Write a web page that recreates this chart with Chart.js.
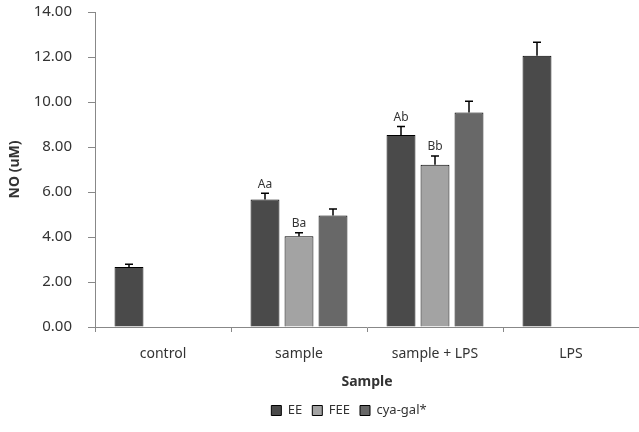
<!DOCTYPE html>
<html>
<head>
<meta charset="utf-8">
<script src="https://cdn.jsdelivr.net/npm/chart.js@4.4.0/dist/chart.umd.min.js"></script>
<style>
  html, body { margin: 0; padding: 0; background: #fff; }
  #wrap { width: 639px; height: 432px; }
</style>
</head>
<body>
<div id="wrap"><canvas id="barChart"></canvas></div>
<script>
// datos
var categorias = ['control', 'sample', 'sample + LPS', 'LPS'];
var valoresEE = [2.67, 5.67, 8.53, 12.06];
var valoresFEE = [null, 4.03, 7.21, null];
var valoresCya = [null, 4.96, 9.53, null];
var errorEE = [0.12, 0.28, 0.38, 0.6];
var errorFEE = [null, 0.16, 0.39, null];
var errorCya = [null, 0.28, 0.5, null];
var letrasEE = ['', 'Aa', 'Ab', ''];
var letrasFEE = ['', 'Ba', 'Bb', ''];
var letrasCya = ['', '', '', ''];
var ticksY = [0, 2, 4, 6, 8, 10, 12, 14];

var fuente = "'Noto Sans', 'DejaVu Sans', sans-serif";

// barras de error y letras encima
var errorBars = {
  id: 'errorBars',
  afterDatasetsDraw: function (chart) {
    var ctx = chart.ctx;
    var yScale = chart.scales.y;
    chart.data.datasets.forEach(function (ds, di) {
      var meta = chart.getDatasetMeta(di);
      ds.data.forEach(function (v, i) {
        if (v === null) return;
        var bar = meta.data[i];
        var err = ds.errores[i] || 0;
        var yTop = yScale.getPixelForValue(v + err);
        ctx.save();
        ctx.strokeStyle = '#000';
        ctx.lineWidth = 1.5;
        ctx.beginPath();
        ctx.moveTo(bar.x, bar.y);
        ctx.lineTo(bar.x, yTop);
        ctx.moveTo(bar.x - 4, yTop);
        ctx.lineTo(bar.x + 4, yTop);
        ctx.stroke();
        if (ds.letras[i]) {
          ctx.fillStyle = '#333';
          ctx.font = '12px ' + fuente;
          ctx.textAlign = 'center';
          ctx.textBaseline = 'bottom';
          ctx.fillText(ds.letras[i], bar.x, yTop - 3);
        }
        ctx.restore();
      });
    });
  }
};

// mover la leyenda un poco a la derecha
var moverLeyenda = {
  id: 'moverLeyenda',
  afterLayout: function (chart) {
    if (chart.legend) chart.legend.left += 56;
  }
};

var barChartData = {
  labels: categorias,
  datasets: [
    {
      label: 'EE',
      backgroundColor: '#4a4a4a',
      borderColor: '#000',
      borderWidth: 1,
      data: valoresEE,
      errores: errorEE,
      letras: letrasEE
    },
    {
      label: 'FEE',
      backgroundColor: '#a3a3a3',
      borderColor: '#000',
      borderWidth: 1,
      data: valoresFEE,
      errores: errorFEE,
      letras: letrasFEE
    },
    {
      label: 'cya-gal*',
      backgroundColor: '#686868',
      borderColor: '#000',
      borderWidth: 1,
      data: valoresCya,
      errores: errorCya,
      letras: letrasCya
    }
  ]
};

var barChartOptions = {
  responsive: true,
  maintainAspectRatio: false,
  animation: false,
  categoryPercentage: 0.75,
  barPercentage: 0.85,
  layout: { padding: { top: 0, right: 0, bottom: 5, left: 3 } },
  plugins: {
    tooltip: { enabled: false },
    legend: {
      position: 'bottom',
      labels: {
        boxWidth: 10,
        boxHeight: 10,
        padding: 10,
        color: '#333',
        font: { family: fuente, size: 13 }
      }
    }
  },
  scales: {
    x: {
      grid: { display: true, drawOnChartArea: false, offset: true, tickLength: 5, color: '#888' },
      border: { color: '#888' },
      ticks: { color: '#333', padding: 14, font: { family: fuente, size: 14 } },
      title: { display: true, text: 'Sample', color: '#333', padding: { top: 4, bottom: 4 }, font: { family: fuente, size: 14, weight: 'bold' } },
      afterFit: function (scale) { scale.height = 67; }
    },
    y: {
      min: 0,
      max: 14,
      grid: { display: true, drawOnChartArea: false, tickLength: 7, color: '#888' },
      border: { color: '#888' },
      afterBuildTicks: function (scale) {
        scale.ticks = ticksY.map(function (v) { return { value: v }; });
      },
      ticks: {
        color: '#333',
        padding: 16,
        font: { family: fuente, size: 15 },
        callback: function (v) { return Number(v).toFixed(2); }
      },
      title: { display: true, text: 'NO (uM)', color: '#333', padding: { top: 4, bottom: 0 }, font: { family: fuente, size: 14, weight: 'bold' } },
      afterFit: function (scale) {
        scale.width = 92;
        scale.paddingTop = 12;
        scale.paddingBottom = 0;
      }
    }
  }
};

var barChartCanvas = document.getElementById('barChart').getContext('2d');
new Chart(barChartCanvas, {
  type: 'bar',
  data: barChartData,
  options: barChartOptions,
  plugins: [errorBars, moverLeyenda]
});
</script>
</body>
</html>
